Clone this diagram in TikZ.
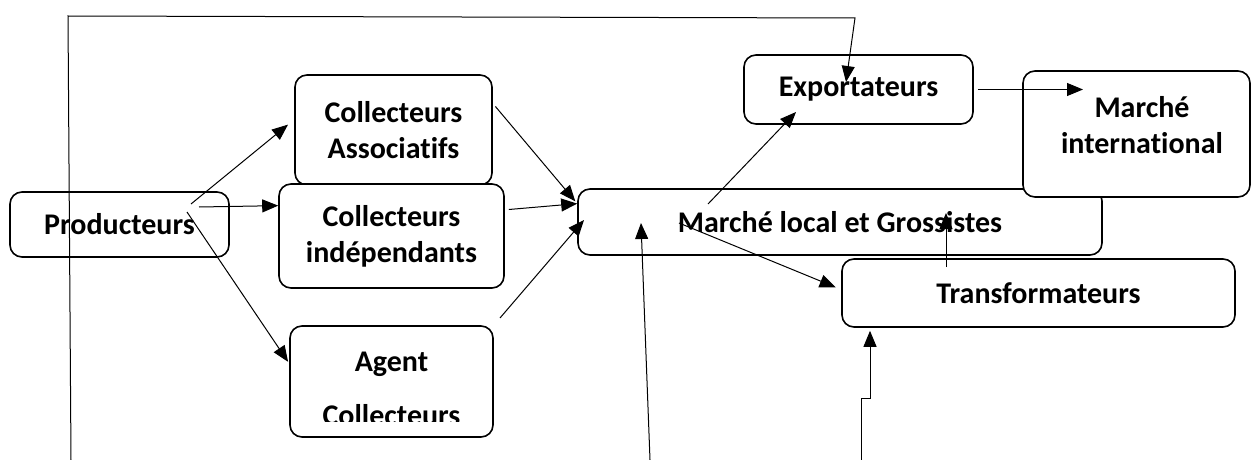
\documentclass[tikz,border=0pt]{standalone}
\usepackage{fontspec}
\setmainfont[Ligatures=NoCommon]{Carlito}
\usetikzlibrary{arrows.meta}

\begin{document}
\begin{tikzpicture}[x=1pt, y=-1pt,
  box/.style={draw, line width=1.6pt, rounded corners=12pt, fill=white, inner sep=0pt},
  lbl/.style={align=center, font=\bfseries\fontsize{30}{36}\selectfont},
  flow/.style={line width=1pt, -{Triangle[length=16pt,width=13pt]}}]

\useasboundingbox (0,0) rectangle (1252,460);

% producers and collectors
\node[box, lbl, minimum width=219pt, minimum height=65pt] (prod) at (119.5,224.5) {Producteurs};
\node[box, lbl, minimum width=197pt, minimum height=110pt] (assoc) at (393.5,130) {Collecteurs\\Associatifs};
\node[box, lbl, minimum width=225pt, minimum height=104pt] (indep) at (391.5,236) {Collecteurs\\indépendants};
\node[box, minimum width=203pt, minimum height=111pt] (agent) at (391.5,381.5) {};
\node[lbl, anchor=base] (agent-a) at (391.5,371) {Agent};
\begin{scope}
\clip (290,326) rectangle (493,421); % text cut by the box
\node[lbl, anchor=base] (agent-c) at (391.5,425) {Collecteurs};
\end{scope}

% markets
\node[box, lbl, minimum width=229pt, minimum height=69pt] (export) at (858.5,89.5) {Exportateurs};
\node[box, lbl, minimum width=524pt, minimum height=66pt] (local) at (840,222) {Marché local et Grossistes};
\node[box, minimum width=227pt, minimum height=126pt] (intl) at (1136.5,134) {};
\node[lbl] (intl-t) at (1142,125.5) {Marché\\international};
\node[box, lbl, minimum width=393pt, minimum height=68pt] (transf) at (1038.5,293) {Transformateurs};

% free ends
\coordinate (p1) at (191,204);
\coordinate (p2) at (199,207);
\coordinate (p3) at (187,212);
\coordinate (g1) at (500,318);
\coordinate (m1) at (708,204);
\coordinate (m2) at (679,223);
\coordinate (m3) at (584,220);
\coordinate (e1) at (796,112);
\coordinate (t1) at (946,267);
\coordinate (t2) at (946,213);
\coordinate (i1) at (1083,89.5);
\coordinate (f1) at (71,460);
\coordinate (f2) at (68,16);
\coordinate (f3) at (855,18);
\coordinate (f4) at (846,82);
\coordinate (b1) at (650,460);
\coordinate (b2) at (641,223);
\coordinate (c1) at (861,460);
\coordinate (c2) at (870,398);

% producers to collectors
\draw[flow, shorten >=8pt] (p1) -- (assoc.174);
\draw[flow] (p2) -- (indep.165.5);
\draw[flow, shorten >=2pt] (p3) -- (agent.170);

% collectors to local market
\draw[flow, shorten <=4pt, shorten >=3pt] (assoc.15) -- (local.176.8);
\draw[flow, shorten <=4pt] (indep.13) -- (local.176.7);
\draw[flow] (g1) -- (m3);

% local market onwards
\draw[flow] (m1) -- (e1);
\draw[flow, shorten >=6pt] (m2) -- (transf.179.2);
\draw[flow] (t1) -- (t2);
\draw[flow, shorten <=4pt] (export.east) -- (i1);

% long lines from below
\draw[flow] (f1) -- (f2) -- (f3) -- (f4);
\draw[flow] (b1) -- (b2);
\draw[flow, shorten >=3pt] (c1) |- (c2) -- (c2 |- transf.south);

\end{tikzpicture}
\end{document}
